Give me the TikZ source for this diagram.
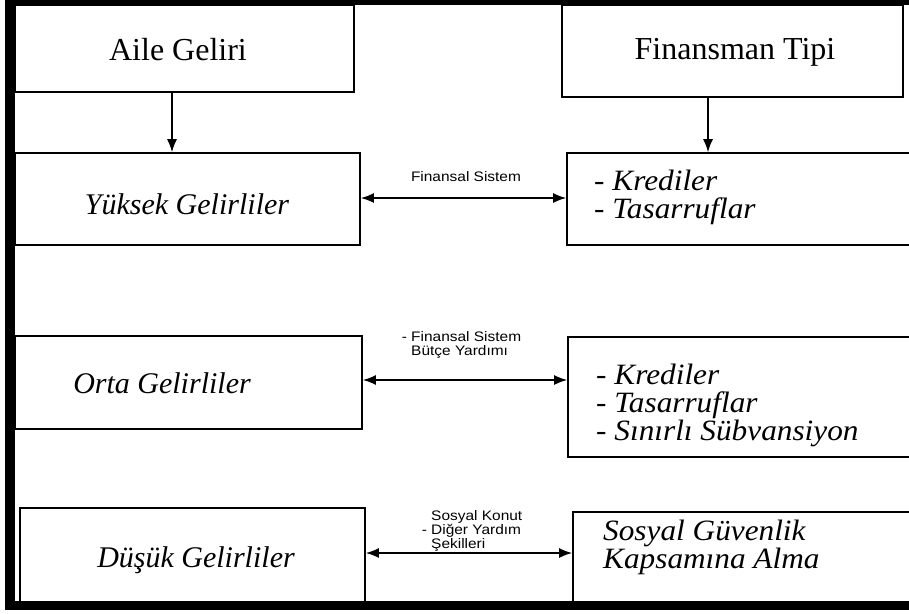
\documentclass[tikz,border=0pt]{standalone}
\usepackage{fontspec}
\setmainfont{Liberation Serif}
\newfontfamily\lblfont[FakeStretch=1.12]{Liberation Sans}
\newfontfamily\itwide[FakeStretch=1.06]{Liberation Serif}
\usetikzlibrary{arrows.meta}
\begin{document}
\begin{tikzpicture}[x=1pt,y=-1pt,
  box/.style={draw, line width=1.6pt, fill=white, inner sep=0pt},
  boxtext/.style={font=\fontsize{32}{34}\selectfont, inner sep=0pt},
  ittext/.style={font=\fontsize{30}{28}\selectfont\itshape, inner sep=0pt},
  itlist/.style={font=\itwide\fontsize{29.5}{28}\selectfont\itshape, align=left, anchor=west, inner sep=0pt},
  lbl/.style={font=\lblfont\fontsize{13.8}{14}\selectfont, align=left, inner sep=0pt},
  tip/.tip={Latex[length=13pt,width=10pt]},
  conn/.style={line width=1.4pt, -tip},
  dconn/.style={line width=1.6pt, tip-tip},
]
\useasboundingbox (0,0) rectangle (909,613);
\clip (0,0) rectangle (909,613);
\fill[white] (0,0) rectangle (909,613);

% boxes
\node[box, minimum width=339pt, minimum height=87pt] (aile) at (184.5,48.5) {};
\node[box, minimum width=341pt, minimum height=92pt] (finans) at (732.5,51) {};
\node[box, minimum width=345pt, minimum height=92pt] (yuksek) at (187.5,199) {};
\node[box, minimum width=348pt, minimum height=92pt] (kred1) at (741,199) {};
\node[box, minimum width=347pt, minimum height=93pt] (orta) at (188.5,382.5) {};
\node[box, minimum width=347pt, minimum height=120pt] (kred2) at (741.5,397) {};
\node[box, minimum width=345pt, minimum height=94pt] (dusuk) at (192.5,555) {};
\node[box, minimum width=342pt, minimum height=92pt] (sosyal) at (744,558) {};

% texts
\node[boxtext] (ailet) at (178,50) {Aile Geliri};
\node[boxtext] (finanst) at (735,52) {Finansman Tipi};
\node[ittext] (yuksekt) at (187,204) {Yüksek Gelirliler};
\node[ittext] (ortat) at (162,383) {Orta Gelirliler};
\node[ittext] (dusukt) at (196,560) {Düşük Gelirliler};
\node[itlist] (kred1t) at (594,197) {- Krediler\\- Tasarruflar};
\node[itlist] (kred2t) at (596,405) {- Krediler\\- Tasarruflar\\- Sınırlı Sübvansiyon};
\node[itlist] (sosyalt) at (603,547) {Sosyal Güvenlik\\Kapsamına Alma};

% connectors
\coordinate (c1) at (172,0);
\coordinate (c2) at (708,0);
\draw[conn] (aile.south -| c1) -- (yuksek.north -| c1);
\draw[conn] (finans.south -| c2) -- (kred1.north -| c2);
\coordinate (r1) at (0,198);
\coordinate (r2) at (0,380);
\coordinate (r3) at (0,553);
\draw[dconn] (yuksek.east |- r1) -- (kred1.west |- r1);
\draw[dconn] (orta.east |- r2) -- (kred2.west |- r2);
\draw[dconn] (dusuk.east |- r3) -- (sosyal.west |- r3);

% connector labels
\node[lbl] (l1) at (466,177) {Finansal Sistem};
\node[lbl, anchor=north west] (l2) at (411,331) {\llap{- }Finansal Sistem\\Bütçe Yardımı};
\node[lbl, anchor=north west] (l3) at (431,510) {Sosyal Konut\\\llap{- }Diğer Yardım\\Şekilleri};

% thick frame
\fill[black] (5,0) rectangle (15,610);
\fill[black] (5,0) rectangle (909,5);
\fill[black] (5,601) rectangle (909,610);
\end{tikzpicture}
\end{document}
